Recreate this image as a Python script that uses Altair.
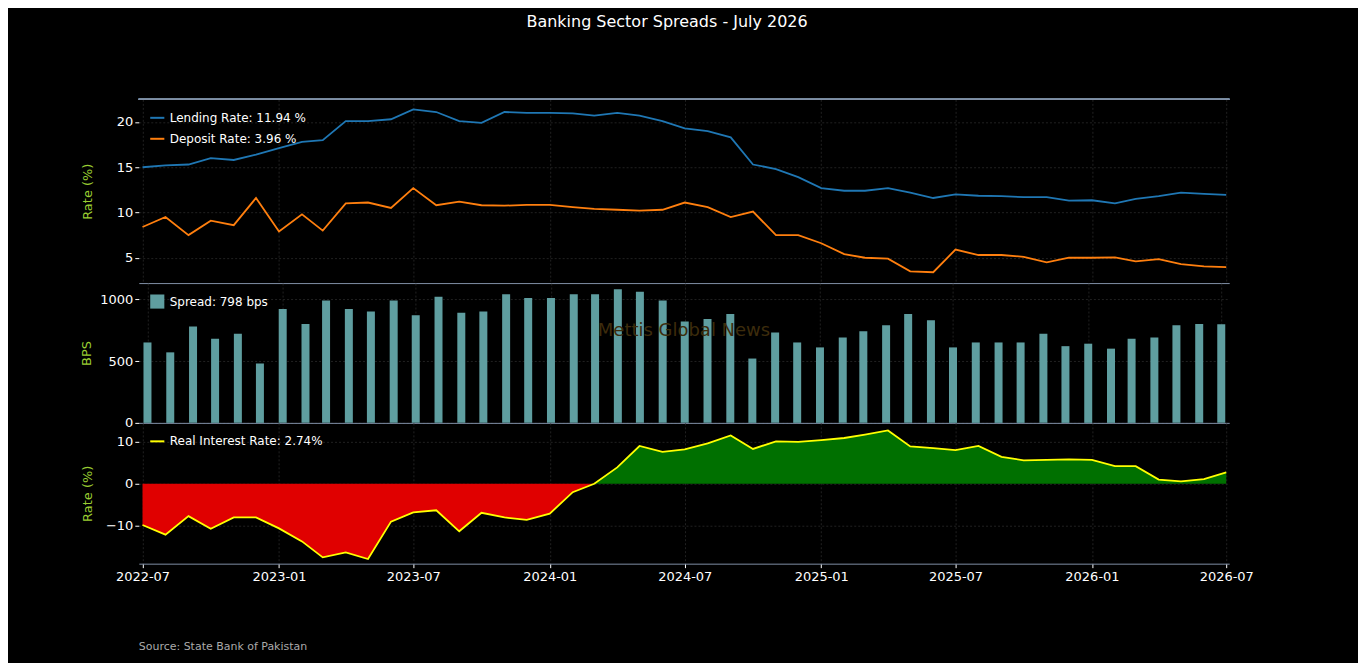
import altair as alt
import pandas as pd

dates = pd.date_range("2022-07-01", "2026-07-01", freq="MS").strftime("%Y-%m-%d").tolist()
lending = [15.0,15.2,15.3,16.0,15.8,16.4,17.1,17.8,18.0,20.1,20.1,20.3,21.4,21.1,20.1,19.9,21.1,21.0,21.0,20.95,
           20.7,21.0,20.7,20.1,19.3,19.0,18.3,15.3,14.8,13.9,12.7,12.4,12.4,12.7,12.2,11.6,12.0,11.85,11.8,11.7,
           11.7,11.3,11.35,11.0,11.5,11.8,12.2,12.05,11.94]
deposit = [8.4,9.5,7.5,9.1,8.6,11.6,7.9,9.8,8.0,11.0,11.1,10.5,12.7,10.8,11.2,10.8,10.75,10.85,10.85,10.6,
           10.4,10.3,10.2,10.3,11.1,10.6,9.5,10.1,7.5,7.5,6.6,5.4,5.0,4.9,3.5,3.4,5.9,5.3,5.3,5.1,
           4.5,5.0,5.0,5.05,4.6,4.85,4.3,4.05,3.96]
spread = [650,570,780,680,720,480,920,800,990,920,900,990,870,1020,890,900,1040,1010,1010,1040,
          1040,1080,1060,990,820,840,880,520,730,650,610,690,740,790,880,830,610,650,650,650,
          720,620,640,600,680,690,790,800,798]
real = [-9.8,-12.1,-7.7,-10.7,-8.0,-8.0,-10.6,-13.7,-17.5,-16.3,-17.9,-9.0,-6.8,-6.3,-11.3,-6.9,-8.0,-8.6,-7.1,-2.0,
        0.0,3.9,9.0,7.6,8.2,9.6,11.5,8.3,10.1,10.0,10.4,10.9,11.7,12.7,8.9,8.5,8.0,9.0,6.4,5.6,
        5.7,5.8,5.7,4.2,4.2,1.0,0.6,1.1,2.74]
lend_label = "Lending Rate: 11.94 %"
dep_label = "Deposit Rate: 3.96 %"
spread_label = "Spread: 798 bps"
real_label = "Real Interest Rate: 2.74%"
tick_dates = ["2022-07-01","2023-01-01","2023-07-01","2024-01-01","2024-07-01","2025-01-01","2025-07-01","2026-01-01","2026-07-01"]

df = pd.DataFrame({"date": dates, "lending": lending, "deposit": deposit, "spread": spread, "real": real})
df["neg"] = df["real"].clip(upper=0)
df["pos"] = df["real"].clip(lower=0)

W = 1092
xscale = alt.Scale(type="utc", domain=[pd.Timestamp("2022-06-26").value // 10**6, pd.Timestamp("2026-07-05").value // 10**6])
tick_vals = [pd.Timestamp(t).value // 10**6 for t in tick_dates]
grid = dict(gridColor="#2a2a2a", gridDash=[2, 2], gridWidth=0.8)
hidden_x = alt.Axis(values=tick_vals, labels=False, ticks=False, title=None, domainColor="#7f8fa6", **grid)
bottom_x = alt.Axis(values=tick_vals, labelExpr="utcFormat(datum.value, '%Y-%m')", title=None,
                    domainColor="#7f8fa6", tickColor="#ffffff", labelColor="#ffffff", labelFontSize=13,
                    tickSize=4, labelPadding=3, **grid)

def yaxis(title, vals):
    return alt.Axis(title=title, values=vals, format="d", titleColor="#9acd32", titleFontSize=13, titleFontWeight="normal",
                    labelColor="#ffffff", labelFontSize=13, tickColor="#ffffff", tickSize=4, domain=False,
                    minExtent=38, titlePadding=6, **grid)

def leg(shape="stroke"):
    return alt.Legend(title=None, orient="top-left", labelColor="#ffffff", labelFontSize=12,
                      symbolType=shape, symbolStrokeWidth=2, symbolSize=200, offset=8, padding=2, rowPadding=6)

base = alt.Chart(df)
noview = alt.ViewConfig(stroke="transparent", strokeWidth=0)

top_long = df[["date", "lending", "deposit"]].melt("date", var_name="s", value_name="v")
top_long["s"] = top_long["s"].map({"lending": lend_label, "deposit": dep_label})
top_lines = alt.Chart(top_long).mark_line(strokeWidth=1.8).encode(
    x=alt.X("date:T", scale=xscale, axis=hidden_x),
    y=alt.Y("v:Q", scale=alt.Scale(domain=[2.2, 22.5], nice=False, zero=False), axis=yaxis("Rate (%)", [5, 10, 15, 20])),
    color=alt.Color("s:N", scale=alt.Scale(domain=[lend_label, dep_label], range=["#1f77b4", "#ff7f0e"]), legend=leg()),
)
top_border = alt.Chart(df).mark_rule(color="#7f8fa6").encode(x=alt.value(0), x2=alt.value(W), y=alt.value(0))
top = alt.layer(top_lines, top_border).properties(width=W, height=184, view=noview)

bars = base.mark_bar(size=8).encode(
    x=alt.X("date:T", scale=xscale, axis=hidden_x),
    y=alt.Y("spread:Q", scale=alt.Scale(domain=[0, 1130], nice=False), axis=yaxis("BPS", [0, 500, 1000])),
    color=alt.Color("k:N", scale=alt.Scale(domain=[spread_label], range=["#5f9ea0"]), legend=leg(shape="square")),
).transform_calculate(k=f"'{spread_label}'")
wm = alt.Chart(pd.DataFrame({"t": ["Mettis Global News"]})).mark_text(
    fontSize=18, color="#3d2c0c", font="DejaVu Sans").encode(text="t:N", x=alt.value(W / 2), y=alt.value(48))
mid = alt.layer(bars, wm).properties(width=W, height=140, view=noview)

ysc = alt.Scale(domain=[-19, 14.5], nice=False)
neg_area = base.mark_area(color="#e00000", opacity=1).encode(
    x=alt.X("date:T", scale=xscale, axis=bottom_x), y=alt.Y("neg:Q", scale=ysc, axis=yaxis("Rate (%)", [-10, 0, 10])), y2=alt.datum(0))
pos_area = base.mark_area(color="#007000", opacity=1).encode(
    x=alt.X("date:T", scale=xscale), y=alt.Y("pos:Q", scale=ysc), y2=alt.datum(0))
real_line = base.mark_line(strokeWidth=1.8).encode(
    x=alt.X("date:T", scale=xscale), y=alt.Y("real:Q", scale=ysc),
    color=alt.Color("k:N", scale=alt.Scale(domain=[real_label], range=["#ffff00"]), legend=leg()),
).transform_calculate(k=f"'{real_label}'")
src = alt.Chart(pd.DataFrame({"t": ["Source: State Bank of Pakistan"]})).mark_text(
    fontSize=11, color="#aaaaaa", align="left", baseline="middle").encode(text="t:N", x=alt.value(0), y=alt.value(224))
bot = alt.layer(neg_area, pos_area, real_line, src).properties(width=W, height=141, view=noview)

chart = alt.vconcat(top, mid, bot, spacing=0, bounds="flush").resolve_scale(color="independent").resolve_legend(color="independent").properties(
    title=alt.TitleParams("Banking Sector Spreads - July 2026", color="#ffffff", fontSize=16, fontWeight="normal",
                          anchor="middle", offset=69),
    background="#000000", padding={"left": 72, "top": 5, "right": 104, "bottom": 12},
).configure_view(stroke="transparent", strokeWidth=0).configure_concat(spacing=0).configure(font="DejaVu Sans")

chart.save("out.html", embed_options={"renderer": "svg", "actions": False})
